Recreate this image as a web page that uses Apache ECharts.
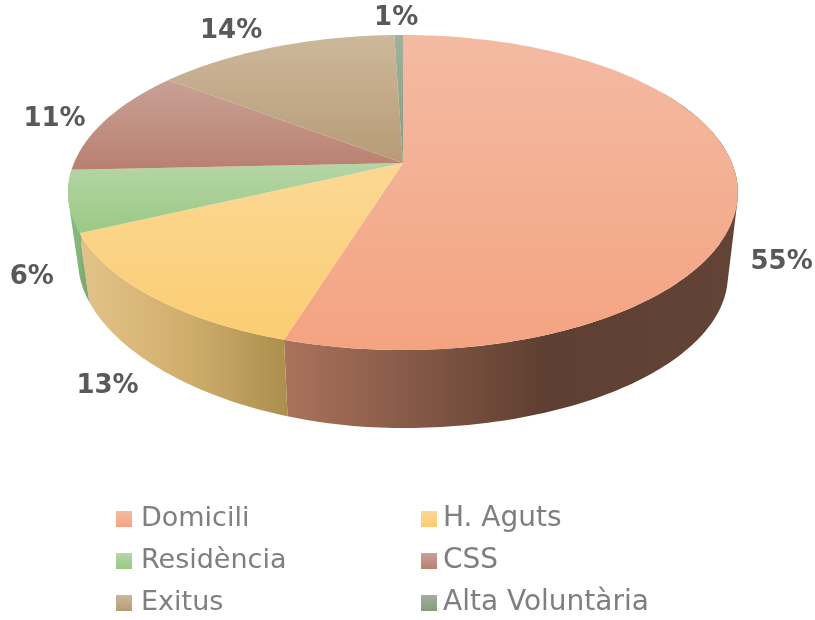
<!DOCTYPE html>
<html><head><meta charset="utf-8">
<style>html,body{margin:0;padding:0;background:#fff}#c{width:815px;height:620px}</style>
<script src="https://cdn.jsdelivr.net/npm/echarts@6/dist/echarts.min.js"></script>
</head><body><div id="c"></div>
<script>
// ---- data ----
var categories = ['Domicili','H. Aguts','Residència','CSS','Exitus','Alta Voluntària'];
var values = [54.8,13.2,6.3,11.1,14.1,0.5];
var tickLabels = ['55%','13%','6%','11%','14%','1%'];
var legendLeft = ['Domicili','Residència','Exitus'];
var legendRight = ['H. Aguts','CSS','Alta Voluntària'];

// ---- styles ----
var topColors = [['#f3bba3','#f4a381'],['#fbd894','#fbcd72'],['#b5d5a6','#9bc985'],['#c9a196','#b98070'],['#cdb89b','#b79b76'],['#a1b19c','#869b80']];
var wallColors = [['#aa725b','#5f3f32','#624335'],['#e2c187','#cfae6c','#ab8f4d'],['#86b67c','#7fa96f','#7fa96f']];
var cx=403, cy=163, R=329, S=152, K=0.1873;   // projection of the pie disc
var VY=2950, T=0.97;                         // projection of the pie's lower rim
var labelFront=69;
var labelNudge=[[-1,4],[-5,0],[9,2],[-15,5],[-29,-3],[-2,-3]];

function proj(deg,r){
  var a=deg*Math.PI/180, X=r*Math.sin(a), Y=r*Math.cos(a), w=1+K*Y;
  return [cx+R*X/w, cy-S*Y/w];
}
function low(p){
  var x=cx+T*(p[0]-cx), y=VY+T*(p[1]-VY), d=Math.max(0,cx-x)/316;
  return [x, y-13*d*d];
}
function arc(a,b){ var n=Math.max(2,Math.ceil(Math.abs(b-a))), pts=[]; for(var i=0;i<=n;i++) pts.push(proj(a+(b-a)*i/n,1)); return pts; }

var total=values.reduce(function(s,v){return s+v;},0), starts=[], acc=0;
values.forEach(function(v){starts.push(acc/total*360); acc+=v;});

function grad(c){return new echarts.graphic.LinearGradient(0,0,0,1,[{offset:0,color:c[0]},{offset:1,color:c[1]}]);}

// the wall is a union of equally wound quads, so that its fold at the silhouette fills solid
function wallPath(a,b){
  var t=arc(a,b), d='';
  for(var i=0;i<t.length-1;i++){
    var q=[t[i],t[i+1],low(t[i+1]),low(t[i])], area=0;
    for(var j=0;j<4;j++){var p=q[j],n=q[(j+1)%4]; area+=p[0]*n[1]-n[0]*p[1];}
    if(area<0) q.reverse();
    d+='M'+q.map(function(p){return p[0].toFixed(2)+' '+p[1].toFixed(2);}).join('L')+'Z';
  }
  return d;
}

function renderSlice(i){
  return function(){
    var a=starts[i], b=a+values[i]/total*360, kids=[];
    var wa=Math.max(a,60);
    if(wallColors[i]){
      var wc=wallColors[i], xs=arc(Math.max(a,90),b).map(low).map(function(p){return p[0];}), x0=Math.min.apply(null,xs), x1=Math.max.apply(null,xs);
      var stops=[{offset:0,color:wc[2]},{offset:i===0?0.42:0.5,color:wc[1]},{offset:1,color:wc[0]}];
      kids.push({type:'path',z2:1+i,shape:{pathData:wallPath(wa,b)},style:{fill:new echarts.graphic.LinearGradient(x1,0,x0,0,stops,true)}});
    }
    var top=[[cx,cy]].concat(arc(a,b));
    kids.push({type:'polygon',z2:10,shape:{points:top},style:{fill:grad(topColors[i])}});
    var mid=(a+b)/2, lp=proj(mid,1.13), front=mid>90&&mid<260;
    kids.push({type:'text',z2:20,x:lp[0]+labelNudge[i][0],y:lp[1]+(front?labelFront:0)+labelNudge[i][1],
      style:{text:tickLabels[i],fill:'#595959',font:'bold 26px "DejaVu Sans"',align:'center',verticalAlign:'middle'}});
    return {type:'group',children:kids};
  };
}

var series=categories.map(function(n,i){
  return {type:'custom',name:n,coordinateSystem:'none',silent:true,animation:false,data:[values[i]],renderItem:renderSlice(i)};
});
function legendData(names){return names.map(function(n){var i=categories.indexOf(n);return {name:n,icon:'rect',itemStyle:{color:grad(topColors[i])}};});}
function legend(names,x,pad,fs){return {orient:'vertical',left:x,top:503,data:legendData(names),selectedMode:false,itemWidth:16,itemHeight:16,itemGap:10,
  textStyle:{color:'#7f7f7f',fontSize:fs,fontFamily:'"DejaVu Sans"',padding:[0,0,0,pad],lineHeight:32},padding:0};}

var chart=echarts.init(document.getElementById('c'),null,{renderer:'canvas'});
chart.setOption({animation:false,backgroundColor:'#fff',legend:[legend(legendLeft,116,4,27),legend(legendRight,421,1,28)],series:series});
</script></body></html>
